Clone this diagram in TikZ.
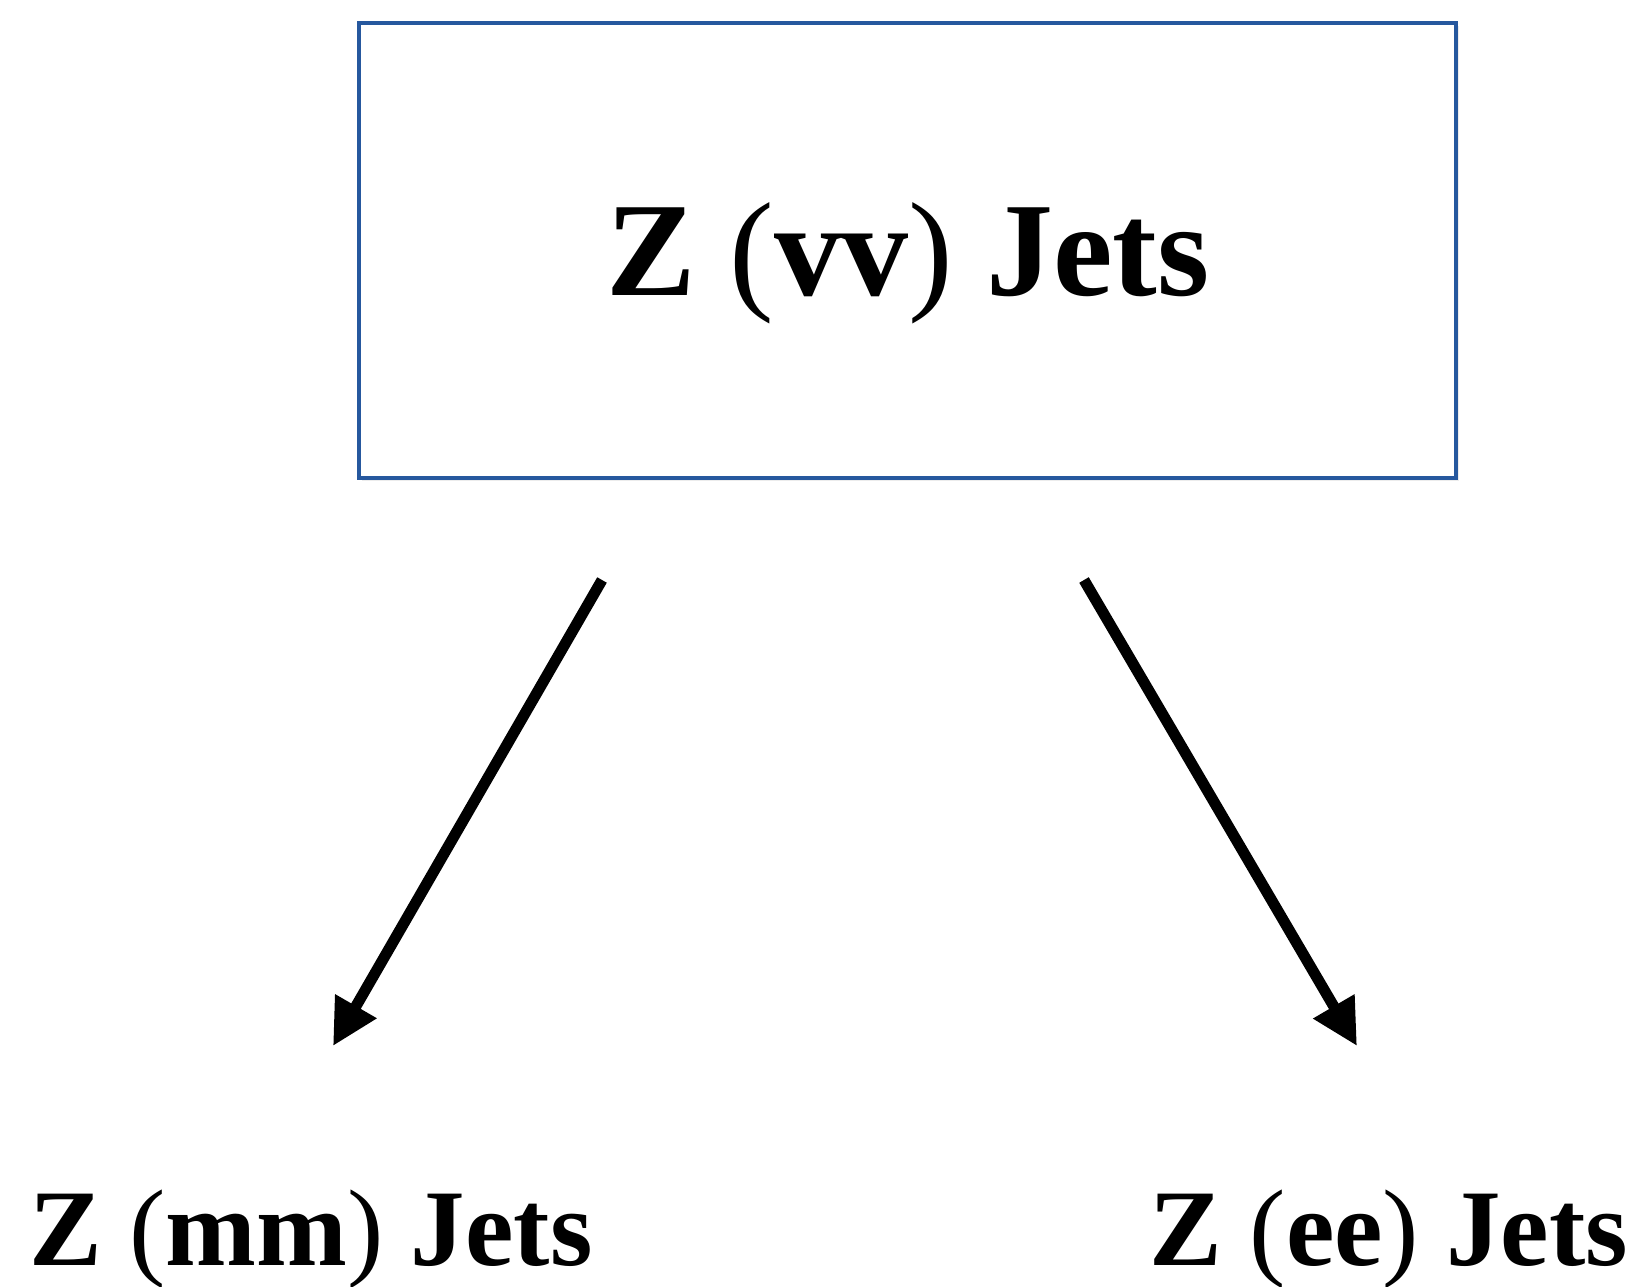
\documentclass[tikz,border=0pt]{standalone}
\usepackage{fontspec}
\setmainfont{Liberation Serif}
\usetikzlibrary{arrows.meta,shadows}
\definecolor{boxblue}{RGB}{38,88,158}
\tikzset{
  titlebox/.style={draw=boxblue,line width=4.5pt,fill=white,rectangle,
    minimum width=1097pt,minimum height=455pt,inner sep=0pt,
    drop shadow={opacity=0.15,shadow xshift=2.5pt,shadow yshift=-3pt}},
  toptext/.style={anchor=base,inner sep=0pt,font=\fontsize{134}{160}\selectfont},
  bottext/.style={anchor=base,inner sep=0pt,font=\fontsize{109}{130}\selectfont},
  bigarrow/.style={line width=11pt,-{Triangle[length=46pt,width=45pt]}}
}
\begin{document}
\begin{tikzpicture}[x=1pt,y=-1pt]
\useasboundingbox (0,0) rectangle (1635,1286);
\node[titlebox] (box) at (907.5,250.5) {};
\node[toptext] (zvv) at (908,295) {\textbf{Z} (\textbf{vv}) \textbf{Jets}};
\node[bottext] (zmm) at (311,1265) {\textbf{Z} (\textbf{mm}) \textbf{Jets}};
\node[bottext] (zee) at (1389,1265) {\textbf{Z} (\textbf{ee}) \textbf{Jets}};
\coordinate (ls) at (602,580);
\coordinate (le) at (333,1046);
\coordinate (rs) at (1084,580);
\coordinate (re) at (1357,1046);
\draw[bigarrow] (ls) -- (le);
\draw[bigarrow] (rs) -- (re);
\end{tikzpicture}
\end{document}
